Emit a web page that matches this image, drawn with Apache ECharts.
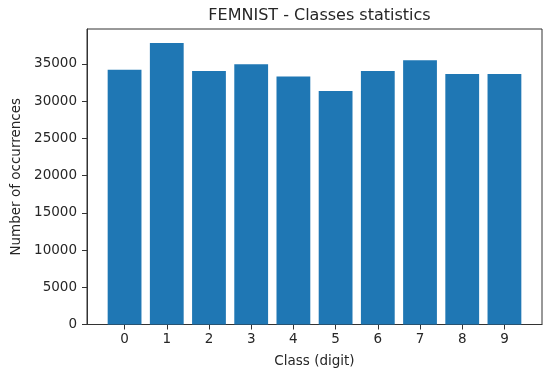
<!DOCTYPE html>
<html>
<head>
<meta charset="utf-8">
<script src="https://cdn.jsdelivr.net/npm/echarts@6/dist/echarts.min.js"></script>
<style>
html,body{margin:0;padding:0;background:#fff;}
#chart{width:543px;height:372px;}
</style>
</head>
<body>
<div id="chart"></div>
<script>
const classes = [0, 1, 2, 3, 4, 5, 6, 7, 8, 9];
const counts = [34200, 37800, 34050, 34950, 33300, 31350, 34050, 35500, 33650, 33650];
const yTicks = [0, 5000, 10000, 15000, 20000, 25000, 30000, 35000];

const FONT = 'DejaVu Sans';
const TXT = '#262626';
const AX = '#333';

const chart = echarts.init(document.getElementById('chart'), null, {renderer: 'canvas'});
const maxCount = Math.max.apply(null, counts);
chart.setOption({
  animation: false,
  backgroundColor: '#fff',
  title: {
    text: 'FEMNIST - Classes statistics',
    left: 314.5,
    top: 3,
    textAlign: 'center',
    textStyle: {fontFamily: FONT, fontSize: 16, fontWeight: 'normal', color: TXT}
  },
  grid: {
    left: 87, right: 1, top: 29, bottom: 47.5,
    containLabel: false, outerBoundsMode: 'none',
    show: true, borderColor: AX, borderWidth: 1, backgroundColor: 'transparent'
  },
  xAxis: {
    type: 'value',
    min: -0.89,
    max: 9.89,
    name: 'Class (digit)',
    nameLocation: 'middle',
    nameGap: 30,
    nameTextStyle: {fontFamily: FONT, fontSize: 13.5, color: TXT},
    axisLine: {show: true, onZero: false, lineStyle: {color: AX, width: 1}},
    axisTick: {show: true, length: 5, lineStyle: {color: AX}, customValues: classes},
    axisLabel: {fontFamily: FONT, fontSize: 13.5, color: TXT, margin: 8, customValues: classes,
      formatter: v => String(v)},
    splitLine: {show: false}
  },
  yAxis: {
    type: 'value',
    min: 0,
    max: maxCount * 1.05,
    name: 'Number of occurrences',
    nameLocation: 'middle',
    nameGap: 52,
    nameTextStyle: {fontFamily: FONT, fontSize: 13.5, color: TXT},
    axisLine: {show: true, onZero: false, lineStyle: {color: AX, width: 1}},
    axisTick: {show: true, length: 5, lineStyle: {color: AX}, customValues: yTicks},
    axisLabel: {fontFamily: FONT, fontSize: 13.5, color: TXT, margin: 10, customValues: yTicks,
      formatter: v => String(v)},
    splitLine: {show: false}
  },
  series: [{
    type: 'bar',
    data: classes.map((c, i) => [c, counts[i]]),
    barWidth: 33.8,
    itemStyle: {color: '#1f77b4'}
  }]
});
</script>
</body>
</html>
